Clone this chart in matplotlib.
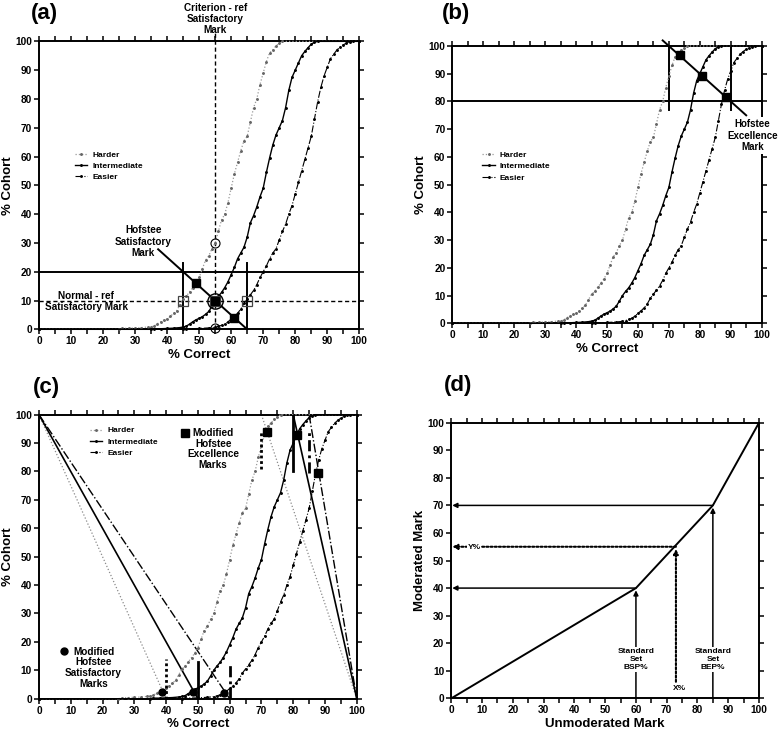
import matplotlib
matplotlib.use("Agg")
import matplotlib.pyplot as plt
from matplotlib.ticker import MultipleLocator

plt.rcParams['font.family'] = ['Liberation Sans', 'DejaVu Sans']
plt.rcParams['font.weight'] = 'bold'

# ---------------- data: cumulative % cohort vs % correct ----------------
harder_x = [0, 25, 26, 28, 30, 32, 34, 35, 36, 37, 38, 39, 40, 41, 42, 43, 44, 45, 46, 47, 48, 49,
            50, 51, 52, 53, 54, 55, 56, 57, 58, 59, 60, 61, 62, 63, 64, 65, 66, 67, 68, 69,
            70, 71, 72, 73, 74, 75, 76, 100]
harder_y = [0, 0, 0.3, 0.4, 0.5, 0.6, 0.8, 0.9, 1.2, 2, 2.6, 3.2, 3.6, 4.5, 5.5, 6.5, 8.5, 10.5, 11.5, 13, 14.5, 16,
            18, 21, 24, 25.5, 28, 30, 34, 38, 40, 44, 49, 54, 58, 62, 65.5, 67, 72, 77, 80, 85,
            89, 93, 96, 97, 98.5, 99.3, 100, 100]

inter_x = [0, 35, 36, 38, 40, 42, 44, 45, 46, 47, 48, 49, 50, 51, 52, 53, 54, 55, 56, 57, 58, 59,
           60, 61, 62, 63, 64, 65, 66, 67, 68, 69, 70, 71, 72, 73, 74, 75, 76, 77, 78, 79,
           80, 81, 82, 83, 84, 85, 86, 87, 100]
inter_y = [0, 0, 0.2, 0.2, 0.3, 0.4, 0.6, 0.8, 1.1, 1.8, 2.6, 3.3, 3.8, 4.4, 5.2, 6.2, 8, 10, 11.5, 12.8, 14.5, 16.5,
           19, 21.5, 24.5, 26.5, 28.5, 32, 37, 39.5, 42.5, 46, 49, 54.5, 59.5, 64, 67.5, 70, 72.5, 77, 83, 87.5,
           90, 92.5, 95, 96.5, 97.8, 99, 99.7, 100, 100]

easier_x = [0, 45, 46, 50, 53, 55, 56, 57, 58, 59, 60, 61, 62, 63, 64, 65, 66, 67, 68, 69,
            70, 71, 72, 73, 74, 75, 76, 77, 78, 79, 80, 81, 82, 83, 84, 85, 86, 87, 88, 89,
            90, 91, 92, 93, 94, 95, 96, 97, 98, 100]
easier_y = [0, 0, 0.2, 0.3, 0.5, 0.7, 1, 1.4, 1.8, 2.6, 3.6, 4.5, 5.6, 7, 9, 10.5, 12, 13.5, 15.5, 18,
            20, 22, 24.5, 26.5, 28, 31, 34, 36.5, 40, 43, 47, 51, 55, 59, 63, 67, 73, 79, 84, 88,
            91, 94, 95.5, 97, 98, 98.8, 99.4, 99.8, 100, 100]

series_labels = ["Harder", "Intermediate", "Easier"]

# panel (a) Hofstee satisfactory construction
a_fail_min, a_fail_max = 0, 20          # % cohort bounds
a_mark_min, a_mark_max = 45, 65         # % correct bounds
a_normal_ref = 10
a_criterion_ref = 55
a_hofstee_x = [49, 55, 61]
a_hofstee_y = [16, 10, 4]
a_open_sq_x = [45, 55, 65]
a_open_sq_y = [10, 10, 10]
a_open_circ_x = [55, 55]
a_open_circ_y = [30, 0.6]

# panel (b) Hofstee excellence construction
b_pct_min = 80
b_mark_min, b_mark_max = 70, 90
b_hofstee_x = [73.6, 80.6, 88.4]
b_hofstee_y = [96.8, 89.2, 81.7]

# panel (c) modified Hofstee
c_sat_marks = [40, 50, 60]
c_exc_marks = [70, 80, 85]
c_sat_pts_x = [38.7, 48.4, 58.3]
c_sat_pts_y = [2.3, 2.3, 1.9]
c_exc_pts_x = [71.7, 81.3, 87.9]
c_exc_pts_y = [94.0, 92.8, 79.3]

# panel (d) moderation mapping
d_x = [0, 60, 85, 100]
d_y = [0, 40, 70, 100]
d_example_x = 73
d_example_y = 55

# ---------------- styling helpers ----------------
styles = [
    dict(color='#9a9a9a', ls=':', lw=0.9, marker='o', ms=1.1, mfc='#666666', mec='#666666'),
    dict(color='black', ls='-', lw=1.0, marker='o', ms=1.1),
    dict(color='black', ls='-.', lw=0.8, marker='o', ms=1.1),
]
seg_styles = [dict(color='#8a8a8a', ls=':', lw=0.9),
              dict(color='black', ls='-', lw=1.2),
              dict(color='black', ls='-.', lw=1.0)]
thick_styles = [dict(color='black', ls=(0, (1, 1)), lw=2.0),
                dict(color='black', ls='-', lw=2.0),
                dict(color='black', ls=(0, (4, 1.5, 1, 1.5)), lw=2.0)]


def style_axes(ax, xlabel, ylabel):
    ax.set_xlim(0, 100)
    ax.set_ylim(0, 100)
    ax.xaxis.set_major_locator(MultipleLocator(10))
    ax.xaxis.set_minor_locator(MultipleLocator(5))
    ax.yaxis.set_major_locator(MultipleLocator(10))
    ax.tick_params(axis='both', which='both', direction='out', top=True, right=True,
                   width=1.1, labelsize=7.3, pad=1.5)
    ax.tick_params(axis='both', which='major', length=3.5)
    ax.tick_params(axis='both', which='minor', length=3.5)
    ax.tick_params(axis='y', which='both', labelright=False)
    for lab in ax.get_xticklabels() + ax.get_yticklabels():
        lab.set_fontweight('bold')
    for sp in ax.spines.values():
        sp.set_linewidth(1.4)
    ax.set_xlabel(xlabel, fontsize=9.5, fontweight='bold', labelpad=2)
    ax.set_ylabel(ylabel, fontsize=9.5, fontweight='bold', labelpad=1)


def draw_curves(ax):
    handles = []
    for xs, ys, st, lab in zip([harder_x, inter_x, easier_x],
                               [harder_y, inter_y, easier_y], styles, series_labels):
        h, = ax.plot(xs, ys, label=lab, clip_on=False, zorder=3, **st)
        handles.append(h)
    return handles


def add_legend(ax, handles, x, y):
    leg = ax.legend(handles=handles, loc='upper left', bbox_to_anchor=(x, y),
                    frameon=False, fontsize=6, handlelength=1.5, handletextpad=0.6,
                    labelspacing=0.4, borderpad=0, borderaxespad=0)
    for t in leg.get_texts():
        t.set_fontweight('bold')
    return leg


fig = plt.figure(figsize=(7.78, 7.32), dpi=100)

# ================= panel (a) =================
ax = fig.add_axes([0.0501, 0.5501, 0.4117, 0.3934])
style_axes(ax, '% Correct', '% Cohort')
h = draw_curves(ax)
add_legend(ax, h, 0.112, 0.62)
ax.plot([0, 100], [a_fail_max, a_fail_max], color='black', lw=1.4, zorder=2)
ax.plot([0, 100], [a_normal_ref, a_normal_ref], color='black', ls=(0, (3, 2)), lw=1.0, zorder=2)
ax.plot([a_criterion_ref, a_criterion_ref], [0, 103], color='black', ls=(0, (3, 2)), lw=1.0,
        zorder=2, clip_on=False)
ax.plot([a_mark_min, a_mark_min], [0, 23], color='black', lw=1.4, zorder=2)
ax.plot([a_mark_max, a_mark_max], [0, 23], color='black', lw=1.4, zorder=2)
ax.plot([37.2, a_mark_max], [a_mark_max - 37.2, a_fail_min], color='black', lw=1.4, zorder=4)
ax.plot(a_open_sq_x, a_open_sq_y, ls='none', marker='s', ms=7.5, mfc='none', mec='#444444',
        mew=0.9, zorder=5)
ax.plot(a_open_circ_x, a_open_circ_y, ls='none', marker='o', ms=6.5, mfc='none', mec='black',
        mew=0.8, zorder=5, clip_on=False)
ax.plot([55], [10], ls='none', marker='o', ms=11, mfc='none', mec='black', mew=1.0, zorder=5)
ax.plot(a_hofstee_x, a_hofstee_y, ls='none', marker='s', ms=5.5, color='black', zorder=6)
ax.text(32.6, 30.4, 'Hofstee\nSatisfactory\nMark', ha='center', va='center', fontsize=7.2,
        fontweight='bold', linespacing=1.2)
ax.text(14.8, 9.6, 'Normal - ref\nSatisfactory Mark', ha='center', va='center', fontsize=7.2,
        fontweight='bold', linespacing=1.15)
ax.text(55, 107.7, 'Criterion - ref\nSatisfactory\nMark', ha='center', va='center', fontsize=7.2,
        fontweight='bold', linespacing=1.15, clip_on=False)
fig.text(31 / 778, 1 - 14 / 732, '(a)', fontsize=16, fontweight='bold', ha='left', va='center')

# ================= panel (b) =================
ax = fig.add_axes([0.5814, 0.5583, 0.3976, 0.3789])
style_axes(ax, '% Correct', '% Cohort')
h = draw_curves(ax)
add_legend(ax, h, 0.097, 0.62)
ax.plot([0, 100], [b_pct_min, b_pct_min], color='black', lw=1.4, zorder=2)
ax.plot([b_mark_min, b_mark_min], [77, 100], color='black', lw=1.4, zorder=2)
ax.plot([b_mark_max, b_mark_max], [77, 100], color='black', lw=1.4, zorder=2)
ax.plot([68, 95], [102, 75], color='black', lw=1.4, zorder=4, clip_on=False)
ax.plot(b_hofstee_x, b_hofstee_y, ls='none', marker='s', ms=5.5, color='black', zorder=6)
ax.text(97, 67.6, 'Hofstee\nExcellence\nMark', ha='center', va='center', fontsize=7,
        fontweight='bold', linespacing=1.2, clip_on=False, zorder=10,
        bbox=dict(facecolor='white', edgecolor='none', pad=1.5))
fig.text(442 / 778, 1 - 13 / 732, '(b)', fontsize=16, fontweight='bold', ha='left', va='center')

# ================= panel (c) =================
ax = fig.add_axes([0.0501, 0.0455, 0.4085, 0.3880])
style_axes(ax, '% Correct', '% Cohort')
h = draw_curves(ax)
add_legend(ax, h, 0.160, 0.958)
for m, st in zip(c_sat_marks, seg_styles):
    ax.plot([0, m], [100, 0], zorder=2, clip_on=False, **st)
for m, st in zip(c_exc_marks, seg_styles):
    ax.plot([m, 100], [100, 0], zorder=2, clip_on=False, **st)
for m, st, top in zip(c_sat_marks, thick_styles, [14, 13, 13]):
    ax.plot([m, m], [0, top], zorder=4, **st)
for m, st, (lo, hi) in zip(c_exc_marks, thick_styles, [(80.8, 94), (80, 100), (79.5, 95)]):
    ax.plot([m, m], [lo, hi], zorder=4, **st)
ax.plot(c_sat_pts_x, c_sat_pts_y, ls='none', marker='o', ms=5, color='black', zorder=6)
ax.plot(c_exc_pts_x, c_exc_pts_y, ls='none', marker='s', ms=5.5, color='black', zorder=6)
ax.plot([45.8], [93.7], ls='none', marker='s', ms=5.5, color='black')
ax.text(54.8, 87.9, 'Modified\nHofstee\nExcellence\nMarks', ha='center', va='center',
        fontsize=7.2, fontweight='bold', linespacing=1.1)
ax.plot([7.9], [16.8], ls='none', marker='o', ms=5, color='black')
ax.text(17.2, 10.9, 'Modified\nHofstee\nSatisfactory\nMarks', ha='center', va='center',
        fontsize=7.2, fontweight='bold', linespacing=1.1)
fig.text(33 / 778, 1 - 387 / 732, '(c)', fontsize=16, fontweight='bold', ha='left', va='center')

# ================= panel (d) =================
ax = fig.add_axes([0.5801, 0.0460, 0.3955, 0.3765])
style_axes(ax, 'Unmoderated Mark', 'Moderated Mark')
ax.plot(d_x, d_y, color='black', lw=1.4, zorder=3)
arrow_solid = dict(arrowstyle='-|>', color='black', lw=1.1, mutation_scale=7, shrinkA=0, shrinkB=0)
arrow_dot = dict(arrowstyle='-|>', color='black', lw=1.5, ls=(0, (1, 1)), mutation_scale=7,
                 shrinkA=0, shrinkB=0)
for xm, ym in zip(d_x[1:3], d_y[1:3]):
    ax.annotate('', xy=(0.3, ym), xytext=(xm, ym), arrowprops=arrow_solid, zorder=2)
    ax.annotate('', xy=(xm, ym - 0.8), xytext=(xm, 0), arrowprops=arrow_solid, zorder=2)
ax.annotate('', xy=(0.3, d_example_y), xytext=(d_example_x, d_example_y), arrowprops=arrow_dot,
            zorder=2)
ax.annotate('', xy=(d_example_x, d_example_y - 0.8), xytext=(d_example_x, 6),
            arrowprops=arrow_dot, zorder=2)
ax.text(7.4, 54.8, 'Y%', ha='center', va='center', fontsize=6, fontweight='bold', zorder=5,
        bbox=dict(facecolor='white', edgecolor='none', pad=0.6))
ax.text(74.3, 3.5, 'X%', ha='center', va='center', fontsize=6, fontweight='bold', zorder=5)
ax.text(60, 14.1, 'Standard\nSet\nBSP%', ha='center', va='center', fontsize=6,
        fontweight='bold', linespacing=1.2, zorder=5,
        bbox=dict(facecolor='white', edgecolor='none', pad=1))
ax.text(85, 14.1, 'Standard\nSet\nBEP%', ha='center', va='center', fontsize=6,
        fontweight='bold', linespacing=1.2, zorder=5,
        bbox=dict(facecolor='white', edgecolor='none', pad=1))
fig.text(444 / 778, 1 - 386 / 732, '(d)', fontsize=16, fontweight='bold', ha='left', va='center')

fig.savefig('out.png', dpi=100, facecolor='white')
